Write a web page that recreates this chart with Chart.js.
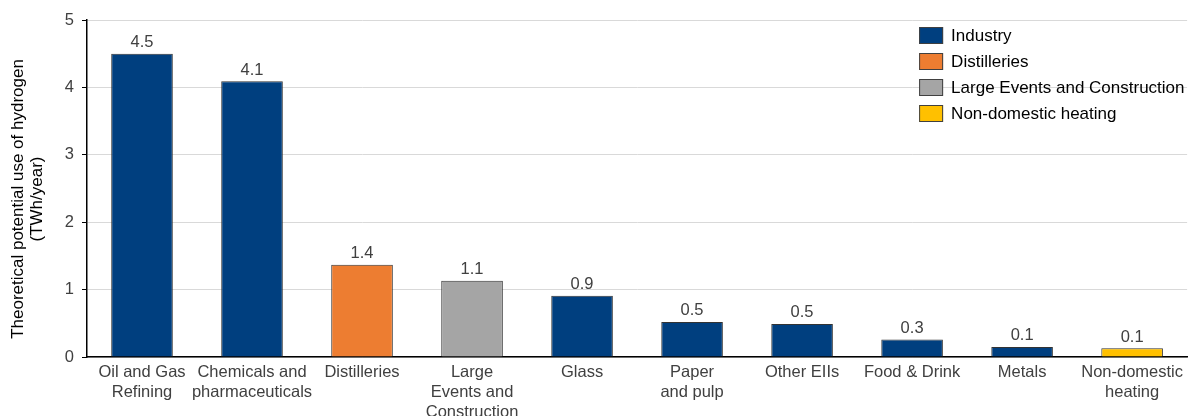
<!DOCTYPE html>
<html>
<head>
<meta charset="utf-8">
<script src="https://cdn.jsdelivr.net/npm/chart.js@4.4.1/dist/chart.umd.min.js"></script>
<style>
  html, body { margin: 0; padding: 0; background: #fff; }
  #wrap { width: 1189px; height: 416px; }
</style>
</head>
<body>
<div id="wrap"><canvas id="c" width="1189" height="416"></canvas></div>
<script>
// ── DATA ──────────────────────────────────────────────────────────────────────
const categories = [
  ['Oil and Gas', 'Refining'],
  ['Chemicals and', 'pharmaceuticals'],
  'Distilleries',
  ['Large', 'Events and', 'Construction'],
  'Glass',
  ['Paper', 'and pulp'],
  'Other EIIs',
  'Food & Drink',
  'Metals',
  ['Non-domestic', 'heating'],
];
const values = [4.5, 4.09, 1.37, 1.13, 0.91, 0.52, 0.49, 0.26, 0.15, 0.13];
const groups = ['Industry', 'Industry', 'Distilleries', 'Large Events and Construction',
  'Industry', 'Industry', 'Industry', 'Industry', 'Industry', 'Non-domestic heating'];
const legendLabels = ['Industry', 'Distilleries', 'Large Events and Construction', 'Non-domestic heating'];
const legendColors = ['#003F7F', '#ED7D31', '#A5A5A5', '#FFC000'];
const yTicks = [0, 1, 2, 3, 4, 5];
const yTitle = ['Theoretical potential use of hydrogen', '(TWh/year)'];

const FONT = "'Liberation Sans', Arial, sans-serif";
const TXT = '#404040';
const colorOf = g => legendColors[legendLabels.indexOf(g)];

// value labels above each bar
const valueLabels = {
  id: 'valueLabels',
  afterDatasetsDraw(chart) {
    const { ctx } = chart;
    const meta = chart.getDatasetMeta(0);
    ctx.save();
    ctx.font = '16.5px ' + FONT;
    ctx.fillStyle = TXT;
    ctx.textAlign = 'center';
    ctx.textBaseline = 'bottom';
    meta.data.forEach((bar, i) => {
      ctx.fillText(values[i].toFixed(1), bar.x, bar.y - 3);
    });
    ctx.restore();
  }
};

// legend box in the top right of the plot
const boxLegend = {
  id: 'boxLegend',
  afterDraw(chart) {
    const { ctx, chartArea: { right, top } } = chart;
    const x0 = right - 268, y0 = top + 7;
    ctx.save();
    ctx.font = '17px ' + FONT;
    ctx.textBaseline = 'middle';
    ctx.textAlign = 'left';
    legendLabels.forEach((lab, i) => {
      const y = y0 + i * 26;
      ctx.fillStyle = legendColors[i];
      ctx.fillRect(x0, y, 24, 17);
      ctx.strokeStyle = '#404040';
      ctx.lineWidth = 1;
      ctx.strokeRect(x0 + 0.5, y + 0.5, 23, 16);
      ctx.fillStyle = '#000';
      ctx.fillText(lab, x0 + 32, y + 9);
    });
    ctx.restore();
  }
};

// rotated two-line y axis title
const axisTitle = {
  id: 'axisTitle',
  afterDraw(chart) {
    const { ctx } = chart;
    ctx.save();
    ctx.translate(0, 199);
    ctx.rotate(-Math.PI / 2);
    ctx.font = '17px ' + FONT;
    ctx.fillStyle = '#000';
    ctx.textAlign = 'center';
    ctx.textBaseline = 'middle';
    ctx.fillText(yTitle[0], 0, 18);
    ctx.fillText(yTitle[1], 0, 37);
    ctx.restore();
  }
};

new Chart(document.getElementById('c'), {
  type: 'bar',
  data: {
    labels: categories,
    datasets: [{
      data: values,
      backgroundColor: groups.map(colorOf),
      borderColor: '#333333',
      borderWidth: 1,
      barPercentage: 0.7,
      categoryPercentage: 0.8,
    }]
  },
  options: {
    responsive: false,
    animation: false,
    layout: { padding: { top: 20, right: 0, bottom: 0, left: 0 } },
    plugins: { legend: { display: false }, tooltip: { enabled: false } },
    scales: {
      x: {
        grid: { display: false, drawTicks: false },
        border: { color: '#000', width: 1.5 },
        ticks: {
          color: TXT, font: { family: FONT, size: 16.5 }, padding: 6,
          maxRotation: 0, autoSkip: false,
        },
        afterFit(s) { s.height = 59; }
      },
      y: {
        min: 0, max: 5,
        afterBuildTicks(s) { s.ticks = yTicks.map(v => ({ value: v })); },
        grid: { color: '#D9D9D9', tickColor: '#000', tickLength: 5 },
        border: { color: '#000', width: 1.5 },
        ticks: { color: TXT, font: { family: FONT, size: 16.5 }, padding: 8 },
        afterFit(s) { s.width = 87; }
      }
    }
  },
  plugins: [valueLabels, boxLegend, axisTitle]
});
</script>
</body>
</html>
